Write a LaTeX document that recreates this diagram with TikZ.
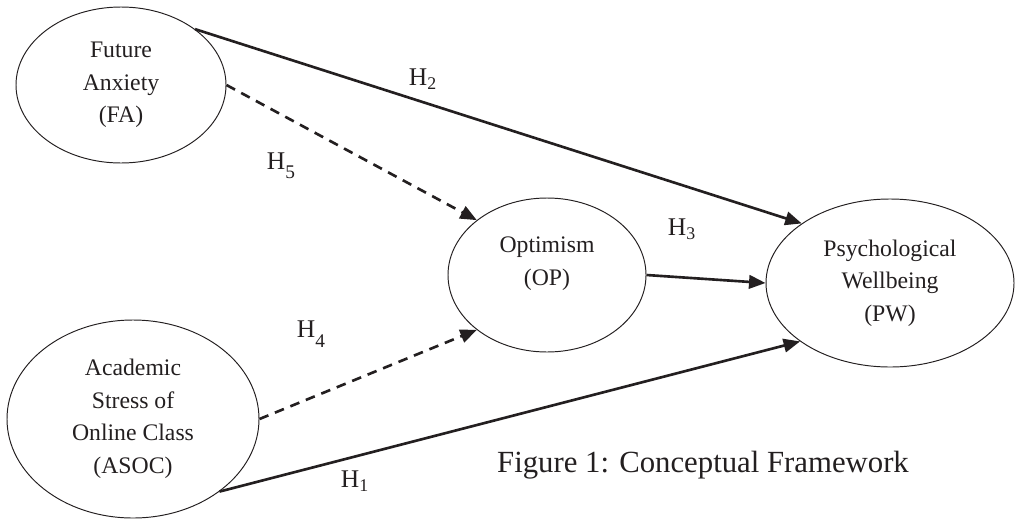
\documentclass[tikz,border=0pt]{standalone}
\usepackage{fontspec}
\setmainfont{Liberation Serif}
\usetikzlibrary{arrows.meta,shapes.geometric}
\definecolor{inkdark}{HTML}{231F20}
\newcommand{\lowsub}[1]{\raisebox{-0.8ex}{\fontsize{11}{11}\selectfont #1}}
\tikzset{
  >={Triangle[length=3.3mm,width=2.7mm]},
  construct/.style={ellipse, draw=inkdark, line width=0.55pt, inner sep=0pt,
                    align=center, text=inkdark,
                    font=\fontsize{13.5}{18.5}\selectfont},
  path/.style={->, draw=inkdark, line width=1.5pt},
  mediated/.style={path, dash pattern=on 5.5pt off 4pt},
  hypLabel/.style={font=\fontsize{14.5}{15}\selectfont, text=inkdark, inner sep=0pt},
  caption/.style={font=\fontsize{17.5}{18}\selectfont, text=inkdark}
}

\begin{document}
\begin{tikzpicture}
\useasboundingbox (0,0) rectangle (20.3,10.38);

% ------------------------------------------------------------
% CONSTRUCTS
% ------------------------------------------------------------
\node[construct, minimum width=4.2cm, minimum height=3.12cm] (fa) at (2.42,8.68)
{Future\\Anxiety\\(FA)};
\node[construct, minimum width=5.04cm, minimum height=3.96cm] (asoc) at (2.66,2.0)
{Academic\\Stress of\\Online Class\\(ASOC)};
\node[construct, minimum width=3.96cm, minimum height=3.08cm] (op) at (10.94,4.88)
{Optimism\\(OP)\\[-0.1cm]};
\node[construct, minimum width=4.96cm, minimum height=3.36cm] (pw) at (17.8,4.72)
{Psychological\\Wellbeing\\(PW)};

% ------------------------------------------------------------
% DIRECT PATHS
% ------------------------------------------------------------
\draw[path] (fa.37) -- (pw.146.6);
\draw[path] (op.east) -- (pw.west);
\draw[path] (asoc.320) -- (pw.213.8);

% mediated paths (dashed)
\draw[mediated] (fa.east) -- (op.142.9);
\draw[mediated] (asoc.east) -- (op.218.2);

% ------------------------------------------------------------
% HYPOTHESES
% ------------------------------------------------------------
\node[hypLabel] (h2) at (8.46,8.8) {H\textsubscript{2}};
\node[hypLabel] (h5) at (5.62,7.06) {H\lowsub{5}};
\node[hypLabel] (h3) at (13.64,5.8) {H\textsubscript{3}};
\node[hypLabel] (h4) at (6.22,3.7) {H\lowsub{4}};
\node[hypLabel] (h1) at (7.1,0.76) {H\textsubscript{1}};

\node[caption] (cap) at (14.06,1.08) {Figure 1: Conceptual Framework};

\end{tikzpicture}
\end{document}
